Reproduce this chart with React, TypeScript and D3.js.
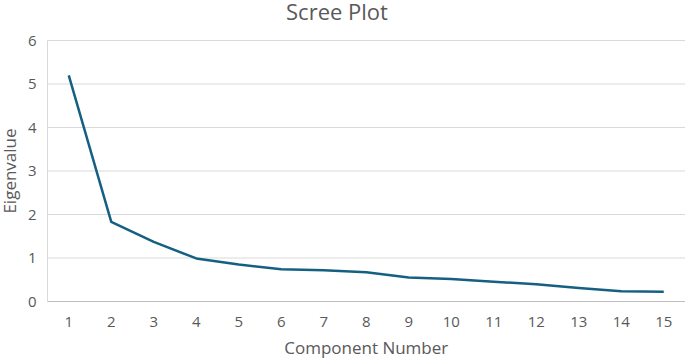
import React, { useEffect, useRef } from 'react';
import * as d3 from 'd3';

const components = [1, 2, 3, 4, 5, 6, 7, 8, 9, 10, 11, 12, 13, 14, 15];
const eigenvalues = [5.2, 1.83, 1.37, 0.99, 0.85, 0.74, 0.72, 0.67, 0.55, 0.52, 0.455, 0.395, 0.31, 0.235, 0.225];
const yTicks = [0, 1, 2, 3, 4, 5, 6];

const W = 685;
const H = 359;
const FONT = '"Open Sans", sans-serif';

const App = () => {
  const ref = useRef(null);

  useEffect(() => {
    document.body.style.margin = '0';
    const root = d3.select(ref.current);
    root.selectAll('*').remove();
    const margin = { top: 40.5, right: 0, bottom: 57.5, left: 47.5 };
    const iw = W - margin.left - margin.right;
    const ih = H - margin.top - margin.bottom;

    const svg = root
      .append('svg')
      .attr('width', W)
      .attr('height', H)
      .style('display', 'block')
      .style('font-family', FONT);

    svg.append('rect').attr('width', W).attr('height', H).attr('fill', '#fff');

    const g = svg.append('g').attr('transform', `translate(${margin.left},${margin.top})`);

    const x = d3.scaleBand().domain(components.map(String)).range([0, iw]);
    const y = d3.scaleLinear().domain([0, 6]).range([ih, 0]);

    // gridlines
    g.selectAll('.grid')
      .data(yTicks.slice(1))
      .enter()
      .append('line')
      .attr('x1', 0)
      .attr('x2', iw)
      .attr('y1', (d) => y(d))
      .attr('y2', (d) => y(d))
      .attr('stroke', '#d9d9d9')
      .attr('stroke-width', 1);

    // axis lines
    g.append('line').attr('x1', 0).attr('x2', iw).attr('y1', ih).attr('y2', ih).attr('stroke', '#bfbfbf');
    g.append('line').attr('x1', 0).attr('x2', 0).attr('y1', 0).attr('y2', ih).attr('stroke', '#d9d9d9');

    // y tick labels
    g.selectAll('.ylab')
      .data(yTicks)
      .enter()
      .append('text')
      .attr('x', -11)
      .attr('y', (d) => y(d))
      .attr('dy', '0.35em')
      .attr('text-anchor', 'end')
      .attr('fill', '#595959')
      .style('font-size', '15px')
      .text((d) => d);

    // x tick labels
    g.selectAll('.xlab')
      .data(components)
      .enter()
      .append('text')
      .attr('x', (d) => x(String(d)) + x.bandwidth() / 2)
      .attr('y', ih + 20)
      .attr('dy', '0.35em')
      .attr('text-anchor', 'middle')
      .attr('fill', '#595959')
      .style('font-size', '15px')
      .text((d) => d);

    // line
    const line = d3
      .line()
      .x((d, i) => x(String(components[i])) + x.bandwidth() / 2)
      .y((d) => y(d));

    g.append('path')
      .datum(eigenvalues)
      .attr('fill', 'none')
      .attr('stroke', '#156082')
      .attr('stroke-width', 2.5)
      .attr('stroke-linejoin', 'round')
      .attr('d', line);

    // titles
    svg.append('text')
      .attr('x', 337)
      .attr('y', 20)
      .attr('text-anchor', 'middle')
      .attr('fill', '#595959')
      .style('font-size', '22px')
      .text('Scree Plot');

    svg.append('text')
      .attr('x', margin.left + iw / 2)
      .attr('y', 354)
      .attr('text-anchor', 'middle')
      .attr('fill', '#595959')
      .style('font-size', '17px')
      .text('Component Number');

    svg.append('text')
      .attr('transform', `translate(16,${margin.top + ih / 2}) rotate(-90)`)
      .attr('text-anchor', 'middle')
      .attr('fill', '#595959')
      .style('font-size', '17px')
      .text('Eigenvalue');
  }, []);

  return <div ref={ref} style={{ width: W, height: H }}></div>;
};

export default App;
